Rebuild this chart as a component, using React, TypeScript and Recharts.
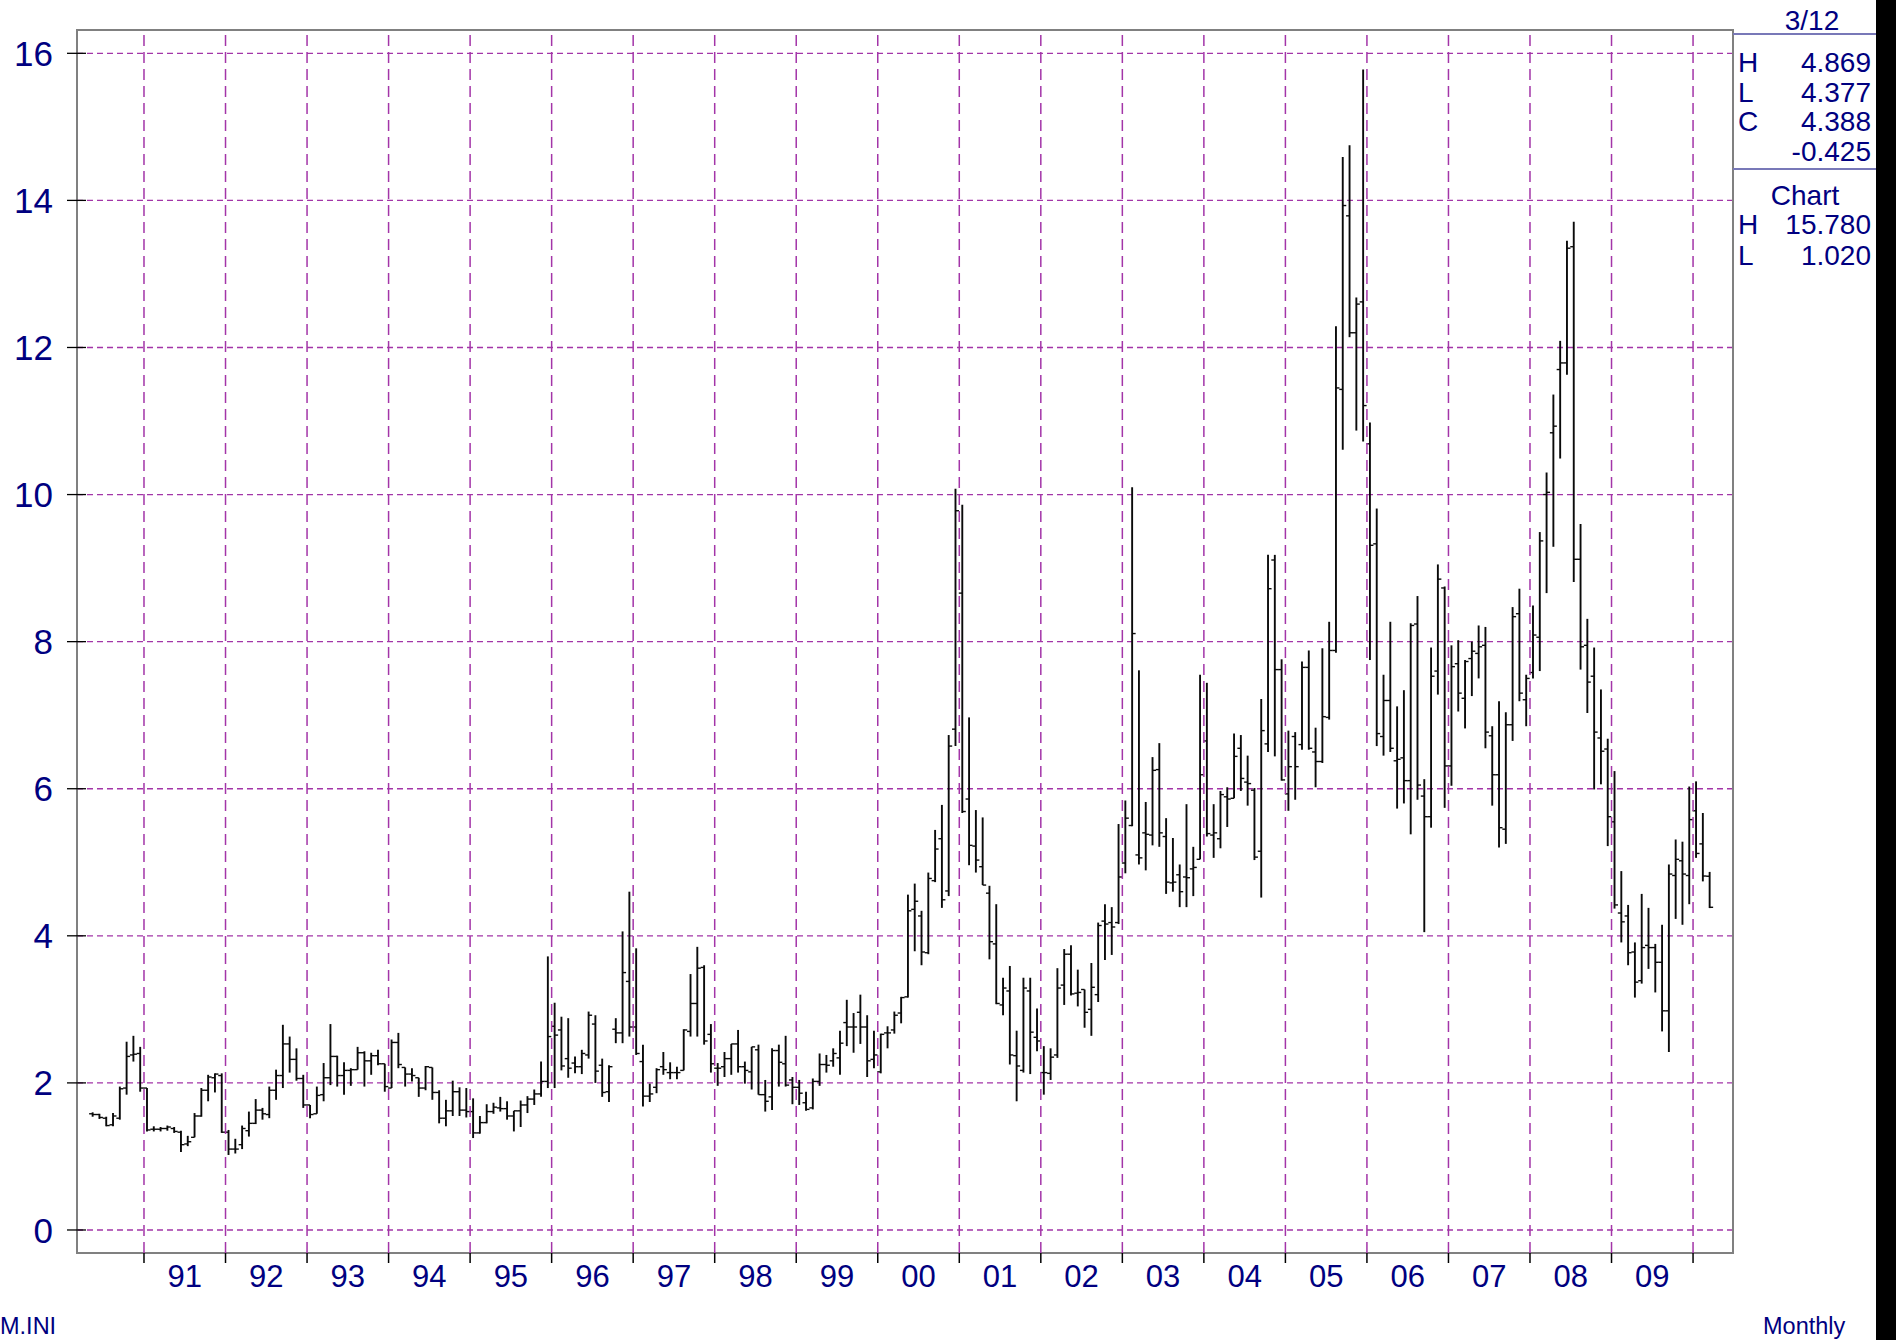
import { ComposedChart, Bar, XAxis, YAxis, CartesianGrid, ReferenceLine, ReferenceArea } from 'recharts'

/* ---------- data: monthly OHLC, May 1990 .. Mar 2010 ---------- */
const FIRST_MONTH = -8 // May 1990, months counted from Jan 1991

const opens = [
  1.58, 1.57, 1.52, 1.43, 1.52, 1.93, 2.38, 2.40, // 1990
  1.93, 1.37, 1.37, 1.38, 1.38, 1.33, 1.17, 1.26, 1.55, 1.90, 2.07, 2.10, // 1991
  1.33, 1.10, 1.16, 1.35, 1.45, 1.63, 1.57, 1.90, 2.10, 2.53, 2.32, 2.06, // 1992
  1.70, 1.58, 1.84, 2.07, 2.36, 2.10, 2.17, 2.18, 2.41, 2.30, 2.37, 2.26, // 1993
  1.93, 2.55, 2.21, 2.12, 2.07, 1.93, 2.21, 1.87, 1.52, 1.62, 1.88, 1.63, // 1994
  1.61, 1.32, 1.46, 1.61, 1.66, 1.65, 1.55, 1.62, 1.70, 1.78, 1.85, 2.02, // 1995
  2.77, 2.72, 2.33, 2.27, 2.22, 2.38, 2.80, 2.24, 1.88, 2.73, 2.68, 3.38, // 1996
  2.76, 2.29, 1.82, 1.94, 2.22, 2.14, 2.14, 2.17, 2.70, 3.08, 3.57, 2.66, // 1997
  2.20, 2.22, 2.33, 2.53, 2.22, 2.15, 2.45, 1.84, 1.81, 2.44, 2.26, 2.04, // 1998
  1.94, 1.73, 1.66, 2.02, 2.25, 2.30, 2.34, 2.82, 2.76, 2.96, 2.76, 2.32, // 1999
  2.15, 2.68, 2.72, 2.95, 3.17, 4.36, 4.27, 3.77, 4.75, 5.32, 4.61, 6.81, // 2000
  8.66, 5.86, 5.22, 4.94, 4.58, 3.89, 3.06, 3.25, 2.37, 2.17, 3.25, 2.62, // 2001
  2.14, 2.13, 2.38, 3.33, 3.75, 3.22, 3.27, 3.00, 3.20, 4.20, 4.18, 4.18, // 2002
  4.99, 5.50, 5.10, 5.40, 5.37, 6.26, 5.35, 4.72, 4.83, 4.80, 4.91, 5.04, // 2003
  6.65, 5.37, 5.32, 5.89, 5.87, 6.55, 6.09, 5.98, 5.15, 6.61, 9.11, 7.62, // 2004
  5.93, 6.71, 6.60, 7.65, 6.50, 6.37, 6.97, 7.88, 11.43, 13.79, 12.20, 12.62, // 2005
  10.69, 9.33, 6.71, 7.20, 6.38, 6.42, 6.11, 8.24, 5.90, 5.62, 7.60, 8.73, // 2006
  6.31, 7.70, 7.23, 7.77, 7.84, 7.95, 6.72, 6.19, 5.45, 6.87, 8.38, 7.21, // 2007
  7.58, 8.06, 10.00, 10.84, 11.70, 11.79, 13.37, 9.12, 7.95, 7.53, 6.69, 6.54, // 2008
  5.55, 4.31, 4.27, 3.78, 3.39, 3.87, 3.84, 3.64, 2.98, 4.82, 5.02, 4.82, // 2009
  5.70, 5.25, 4.81, // 2010
]

const highs = [
  1.60, 1.58, 1.54, 1.59, 1.95, 2.56, 2.64, 2.49,
  1.93, 1.41, 1.40, 1.42, 1.40, 1.35, 1.28, 1.59, 1.93, 2.11, 2.13, 2.13,
  1.36, 1.24, 1.42, 1.61, 1.78, 1.66, 1.95, 2.18, 2.79, 2.63, 2.47, 2.11,
  1.70, 1.95, 2.27, 2.80, 2.37, 2.28, 2.20, 2.49, 2.43, 2.41, 2.45, 2.26,
  2.59, 2.68, 2.21, 2.20, 2.07, 2.23, 2.21, 1.90, 1.77, 2.03, 1.94, 1.93,
  1.79, 1.55, 1.71, 1.73, 1.81, 1.75, 1.62, 1.76, 1.82, 1.91, 2.29, 3.72,
  3.09, 2.90, 2.88, 2.36, 2.45, 2.97, 2.92, 2.33, 2.24, 2.88, 4.06, 4.60,
  3.83, 2.52, 1.99, 2.20, 2.42, 2.28, 2.22, 2.73, 3.48, 3.85, 3.60, 2.80,
  2.27, 2.42, 2.53, 2.72, 2.29, 2.49, 2.52, 2.04, 2.47, 2.52, 2.64, 2.08,
  2.04, 1.88, 2.06, 2.40, 2.38, 2.47, 2.71, 3.13, 2.95, 3.20, 2.92, 2.71,
  2.67, 2.77, 2.97, 3.17, 4.56, 4.71, 4.34, 4.86, 5.44, 5.78, 6.73, 10.08,
  9.86, 6.97, 5.71, 5.61, 4.68, 4.43, 3.43, 3.59, 2.71, 3.43, 3.43, 3.01,
  2.50, 2.47, 3.56, 3.82, 3.87, 3.54, 3.27, 3.63, 4.18, 4.43, 4.39, 5.52,
  5.84, 10.10, 7.61, 5.82, 6.43, 6.62, 5.60, 5.33, 4.97, 5.79, 5.21, 7.55,
  7.44, 5.79, 5.97, 6.02, 6.75, 6.73, 6.45, 6.01, 7.22, 9.18, 9.18, 7.76,
  6.79, 6.77, 7.73, 7.88, 6.83, 7.91, 8.27, 12.29, 14.59, 14.75, 12.68, 15.78,
  10.98, 9.81, 7.55, 8.27, 7.12, 7.34, 8.25, 8.62, 6.13, 7.92, 9.05, 8.75,
  7.95, 8.02, 7.75, 8.00, 8.22, 8.20, 6.85, 7.19, 7.04, 8.47, 8.72, 7.55,
  8.49, 9.49, 10.30, 11.36, 12.09, 13.45, 13.71, 9.60, 8.31, 7.92, 7.35, 6.68,
  6.24, 4.88, 4.42, 3.91, 4.57, 4.38, 3.89, 4.15, 4.97, 5.31, 5.28, 6.03,
  6.10, 5.67, 4.869,
]

const lows = [
  1.54, 1.51, 1.41, 1.41, 1.50, 1.84, 2.29, 1.88,
  1.34, 1.34, 1.34, 1.35, 1.32, 1.06, 1.14, 1.26, 1.54, 1.75, 1.87, 1.32,
  1.02, 1.04, 1.10, 1.27, 1.44, 1.50, 1.52, 1.77, 1.93, 2.14, 2.03, 1.66,
  1.52, 1.58, 1.75, 1.97, 1.95, 1.84, 1.96, 2.18, 1.95, 2.11, 2.24, 1.88,
  1.93, 2.20, 1.95, 2.02, 1.81, 1.90, 1.77, 1.45, 1.41, 1.55, 1.55, 1.53,
  1.25, 1.31, 1.45, 1.58, 1.61, 1.50, 1.34, 1.40, 1.59, 1.70, 1.81, 1.93,
  1.93, 2.17, 2.07, 2.13, 2.12, 2.33, 2.00, 1.81, 1.74, 2.54, 2.54, 2.63,
  2.38, 1.68, 1.74, 1.86, 2.11, 2.05, 2.05, 2.17, 2.63, 2.63, 2.52, 2.14,
  1.96, 2.08, 2.11, 2.14, 1.99, 1.91, 1.84, 1.61, 1.63, 1.95, 1.95, 1.71,
  1.70, 1.62, 1.64, 1.96, 2.14, 2.22, 2.11, 2.50, 2.41, 2.53, 2.08, 2.20,
  2.13, 2.47, 2.67, 2.81, 3.16, 3.79, 3.60, 3.75, 4.73, 4.38, 4.54, 6.58,
  5.67, 4.96, 4.86, 4.69, 3.68, 3.07, 2.92, 2.25, 1.75, 2.14, 2.12, 2.43,
  1.84, 2.04, 2.34, 3.06, 3.19, 3.04, 2.75, 2.64, 3.10, 3.67, 3.74, 4.16,
  4.85, 5.49, 4.97, 4.89, 5.23, 5.21, 4.57, 4.60, 4.39, 4.39, 4.54, 5.04,
  5.35, 5.06, 5.19, 5.48, 5.87, 5.97, 5.77, 5.03, 4.52, 6.50, 6.44, 6.11,
  5.70, 5.85, 6.53, 6.53, 6.02, 6.35, 6.94, 7.85, 10.61, 12.14, 10.87, 10.72,
  7.75, 6.58, 6.45, 6.50, 5.73, 5.80, 5.38, 5.85, 4.05, 5.47, 7.28, 5.74,
  6.04, 7.05, 6.82, 7.26, 7.50, 6.55, 5.77, 5.20, 5.25, 6.65, 7.19, 6.85,
  7.50, 7.60, 8.66, 9.29, 10.49, 11.63, 8.81, 7.62, 7.03, 5.99, 6.06, 5.22,
  4.37, 3.91, 3.60, 3.16, 3.35, 3.55, 3.23, 2.70, 2.42, 4.23, 4.15, 4.43,
  5.06, 4.74, 4.377,
]

const closes = [
  1.57, 1.53, 1.42, 1.55, 1.92, 2.36, 2.39, 1.93,
  1.36, 1.37, 1.38, 1.40, 1.34, 1.16, 1.20, 1.55, 1.90, 2.08, 2.12, 1.33,
  1.10, 1.10, 1.38, 1.45, 1.63, 1.58, 1.90, 2.10, 2.53, 2.32, 2.06, 1.70,
  1.57, 1.83, 2.07, 2.36, 2.10, 2.17, 2.18, 2.41, 2.30, 2.37, 2.26, 1.95,
  2.55, 2.25, 2.12, 2.10, 1.93, 2.22, 1.87, 1.52, 1.62, 1.88, 1.63, 1.61,
  1.32, 1.46, 1.61, 1.67, 1.65, 1.55, 1.62, 1.70, 1.78, 1.85, 2.02, 2.63,
  2.65, 2.23, 2.20, 2.22, 2.40, 2.92, 2.16, 1.87, 2.22, 2.68, 3.50, 2.76,
  2.40, 1.82, 1.85, 2.18, 2.18, 2.14, 2.14, 2.72, 3.08, 3.56, 2.57, 2.26,
  2.20, 2.33, 2.53, 2.22, 2.17, 2.49, 1.84, 1.75, 2.44, 2.28, 1.97, 1.94,
  1.86, 1.64, 2.02, 2.25, 2.24, 2.40, 2.54, 2.76, 2.76, 2.76, 2.30, 2.38,
  2.66, 2.68, 2.92, 3.16, 4.34, 4.47, 3.78, 4.78, 5.18, 4.49, 6.58, 9.78,
  5.69, 5.23, 5.03, 4.69, 3.92, 3.08, 3.29, 2.38, 2.23, 3.29, 2.69, 2.57,
  2.14, 2.35, 3.29, 3.75, 3.21, 3.23, 2.96, 3.30, 4.14, 4.16, 4.12, 4.80,
  5.60, 8.11, 5.06, 5.38, 6.25, 5.40, 4.73, 4.73, 4.60, 4.79, 4.93, 6.19,
  5.39, 5.40, 5.92, 5.86, 6.44, 6.14, 6.07, 5.07, 6.79, 8.72, 7.62, 6.12,
  6.30, 6.30, 7.65, 6.55, 6.37, 6.98, 7.88, 11.45, 13.93, 12.20, 12.59, 11.21,
  9.31, 6.75, 7.20, 6.55, 6.40, 6.11, 8.22, 6.05, 5.62, 7.53, 8.85, 6.31,
  7.66, 7.30, 7.73, 7.87, 7.93, 6.77, 6.19, 5.47, 6.87, 8.34, 7.30, 7.50,
  8.09, 9.37, 10.03, 10.93, 11.79, 13.35, 9.12, 7.93, 7.45, 6.77, 6.51, 5.62,
  4.42, 4.19, 3.77, 3.37, 3.84, 3.84, 3.64, 2.98, 4.84, 5.04, 4.84, 5.58,
  5.12, 4.813, 4.388,
]

const yearLabels = ['91', '92', '93', '94', '95', '96', '97', '98', '99', '00',
  '01', '02', '03', '04', '05', '06', '07', '08', '09']
const yTicks = [0, 2, 4, 6, 8, 10, 12, 14, 16]

// side panel
const lastDate = '3/12'
const lastRows = [['H', '4.869'], ['L', '4.377'], ['C', '4.388'], ['', '-0.425']]
const chartRows = [['H', '15.780'], ['L', '1.020']]

/* ---------- derived ---------- */
const data = highs.map((h, i) => ({
  t: i + FIRST_MONTH + 0.5, // bar sits in the middle of its month
  open: opens[i], high: h, low: lows[i], close: closes[i],
}))
const yearStarts = [...yearLabels.map((_, i) => i * 12), yearLabels.length * 12]
const yearMids = yearLabels.map((_, i) => i * 12 + 6)
const xTicks = [...yearStarts, ...yearMids].sort((a, b) => a - b)

const X_DOMAIN: [number, number] = [-9.86, 233.88]
const Y_DOMAIN: [number, number] = [-0.313, 16.317]

const NAVY = '#000080'
const GRID = '#a335a8'
const FONT = '"Liberation Sans", Arial, sans-serif'

function OhlcBar(props: any) {
  const { x, y, width, height, payload } = props
  if (x == null || !payload) return null
  const cx = x + width / 2
  const top = Math.min(y, y + height)
  const bot = Math.max(y, y + height)
  const span = payload.high - payload.low || 1
  const at = (v: number) => top + ((payload.high - v) / span) * (bot - top)
  return (
    <g>
      <line x1={cx} x2={cx} y1={top} y2={bot} stroke="#0a0a0a" strokeWidth={1.9} />
      <line x1={cx - 3.5} x2={cx} y1={at(payload.open)} y2={at(payload.open)} stroke="#0a0a0a" strokeWidth={1.4} />
      <line x1={cx} x2={cx + 3.5} y1={at(payload.close)} y2={at(payload.close)} stroke="#0a0a0a" strokeWidth={1.4} />
    </g>
  )
}

function YearTick({ x, y, payload }: any) {
  const v = payload.value
  if (v % 12 === 0) return <line x1={x} x2={x} y1={y} y2={y + 10} stroke="#000" strokeWidth={1.5} />
  return (
    <text x={x} y={y + 12} dy="0.71em" textAnchor="middle" fill={NAVY} fontSize={31} fontFamily={FONT}>
      {yearLabels[Math.floor(v / 12)]}
    </text>
  )
}

function ValueTick({ x, y, payload }: any) {
  return (
    <g>
      <line x1={x - 10} x2={x + 9} y1={y} y2={y} stroke="#000" strokeWidth={1.3} />
      <text x={x - 24} y={y} dy="0.36em" textAnchor="end" fill={NAVY} fontSize={35} fontFamily={FONT}>
        {payload.value}
      </text>
    </g>
  )
}

export default function App() {
  return (
    <div style={{ position: 'absolute', left: 0, top: 0, width: 1896, height: 1340, background: '#fff', overflow: 'hidden' }}>
      <div style={{ position: 'absolute', left: 0, top: 0 }}>
        <ComposedChart width={1876} height={1340} data={data} margin={{ top: 30, right: 143, bottom: 47, left: 0 }}>
          <CartesianGrid vertical={false} stroke={GRID} strokeDasharray="6 4" strokeWidth={1.3} />
          {yearStarts.map((s) => (
            <ReferenceLine key={s} x={s} stroke={GRID} strokeDasharray="11 6" strokeWidth={1.5} />
          ))}
          <XAxis
            dataKey="t" type="number" domain={X_DOMAIN} allowDataOverflow ticks={xTicks} interval={0}
            axisLine={false} tickLine={false} tickSize={0} tickMargin={0} height={40} tick={<YearTick />}
          />
          <YAxis
            type="number" domain={Y_DOMAIN} allowDataOverflow ticks={yTicks} interval={0}
            axisLine={false} tickLine={false} tickSize={0} tickMargin={0} width={77} tick={<ValueTick />}
          />
          <Bar dataKey={(d: any) => [d.low, d.high]} barSize={2} shape={<OhlcBar />} isAnimationActive={false} />
          <ReferenceArea x1={X_DOMAIN[0]} x2={X_DOMAIN[1]} y1={Y_DOMAIN[0]} y2={Y_DOMAIN[1]}
            fill="none" stroke="#808080" strokeWidth={2} ifOverflow="visible" />
        </ComposedChart>
      </div>
      <svg width={1896} height={1340} style={{ position: 'absolute', left: 0, top: 0, pointerEvents: 'none' }}
        fontFamily={FONT} fill={NAVY}>
        <text x={1812} y={30} fontSize={28} textAnchor="middle">{lastDate}</text>
        <line x1={1733} x2={1876} y1={34} y2={34} stroke="#7878b8" strokeWidth={2} />
        {lastRows.map(([k, v], i) => (
          <g key={i} fontSize={28}>
            <text x={1738} y={72 + i * 29.5}>{k}</text>
            <text x={1871} y={72 + i * 29.5} textAnchor="end">{v}</text>
          </g>
        ))}
        <line x1={1733} x2={1876} y1={169} y2={169} stroke="#7878b8" strokeWidth={2} />
        <text x={1805} y={205} fontSize={28} textAnchor="middle">Chart</text>
        {chartRows.map(([k, v], i) => (
          <g key={i} fontSize={28}>
            <text x={1738} y={234 + i * 31}>{k}</text>
            <text x={1871} y={234 + i * 31} textAnchor="end">{v}</text>
          </g>
        ))}
        <text x={0} y={1334} fontSize={23.5}>M.INI</text>
        <text x={1763} y={1334} fontSize={23.5}>Monthly</text>
      </svg>
      <div style={{ position: 'absolute', left: 1876, top: 0, width: 20, height: 1340, background: '#000' }} />
    </div>
  )
}
